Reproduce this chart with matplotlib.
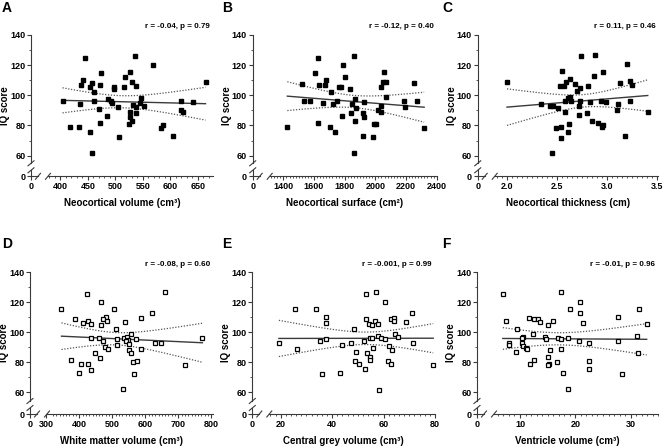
import numpy as np
import matplotlib
matplotlib.use("Agg")
import matplotlib.pyplot as plt

plt.rcParams['font.family'] = ['Liberation Sans', 'DejaVu Sans']
plt.rcParams['font.weight'] = 'bold'

# values
vol_a = [444, 535, 568, 474, 526, 517, 442, 458, 438, 472, 454, 498, 498, 516, 531, 538, 664, 462,
         547, 404, 462, 487, 492, 494, 544, 619, 642, 436, 532, 552, 504, 538, 471, 620, 623, 527,
         538, 485, 527, 531, 472, 525, 586, 583, 418, 434, 454, 605, 506, 457]
iq_a = [124.8, 126.2, 119.8, 114.9, 115.6, 112.3, 109.9, 108.1, 106.8, 107.0, 105.3, 105.7, 104.1,
        105.3, 108.6, 106.4, 108.7, 102.0, 98.5, 96.0, 96.0, 97.3, 96.2, 94.9, 95.2, 96.0, 95.8, 94.0,
        93.8, 92.7, 92.5, 92.0, 91.2, 90.3, 89.0, 88.8, 88.1, 86.6, 85.9, 83.3, 81.5, 80.7, 80.4, 78.0,
        79.1, 79.1, 75.4, 73.1, 72.1, 61.7]

surf_b = [1863, 1624, 1787, 1609, 2059, 1804, 1677, 2048, 2068, 2254, 1520, 1631, 1674, 1763, 1778,
          2037, 1833, 1709, 2070, 1870, 1537, 1572, 2270, 2185, 1752, 1926, 1657, 1724, 1850, 2192,
          2035, 1874, 2016, 2037, 1843, 1918, 1928, 1781, 1868, 2318, 1628, 1994, 2007, 1426, 1705,
          1737, 1918, 1983, 1859]
iq_b = [126.2, 124.8, 119.8, 114.9, 115.3, 112.3, 109.9, 108.6, 109.0, 108.1, 107.2, 106.8, 106.6,
        105.5, 105.7, 105.3, 104.4, 102.0, 98.7, 97.3, 96.2, 96.2, 96.2, 96.0, 96.2, 95.4, 95.2, 94.0,
        94.0, 92.3, 92.7, 91.4, 90.1, 88.8, 88.6, 88.1, 85.9, 86.6, 83.0, 78.0, 81.5, 80.7, 80.9, 79.1,
        79.1, 75.6, 73.1, 72.1, 62.0]

thick_c = [2.737, 2.879, 3.201, 2.551, 2.962, 2.870, 2.634, 2.591, 3.228, 2.003, 3.126, 3.245, 2.680,
           2.531, 2.571, 2.810, 2.727, 2.700, 2.630, 2.611, 2.577, 2.637, 2.727, 2.830, 2.939, 2.992,
           3.228, 2.342, 2.434, 2.458, 2.723, 3.109, 2.508, 3.096, 3.405, 2.581, 2.797, 2.723, 2.847,
           2.910, 2.962, 2.949, 2.620, 2.538, 2.494, 2.611, 2.538, 3.178, 2.448]
iq_c = [125.9, 127.0, 120.5, 116.3, 115.6, 112.9, 110.6, 109.1, 109.5, 108.6, 107.9, 107.1, 107.5,
        105.9, 105.9, 106.2, 104.8, 102.6, 99.2, 97.9, 96.5, 96.5, 96.5, 95.6, 96.1, 95.4, 96.5, 94.3,
        93.1, 92.9, 92.9, 94.3, 91.4, 90.3, 88.9, 88.9, 88.4, 86.7, 83.3, 81.7, 80.6, 79.3, 80.8, 79.3,
        78.2, 75.5, 71.9, 73.2, 61.8]

wm_d = [661, 423, 467, 346, 505, 621, 587, 480, 473, 484, 388, 426, 412, 436, 538, 467, 512, 558,
        436, 459, 471, 515, 535, 545, 549, 542, 573, 773, 550, 629, 649, 513, 478, 487, 551, 558,
        587, 448, 462, 562, 574, 721, 376, 404, 426, 435, 398, 566, 532]
iq_d = [126.5, 125.1, 120.0, 115.1, 115.6, 112.5, 109.1, 110.0, 108.7, 107.3, 108.5, 107.1, 105.8,
        105.6, 106.7, 104.5, 102.3, 98.5, 96.3, 96.3, 94.0, 95.6, 96.3, 97.0, 95.0, 94.0, 95.1, 95.8,
        92.3, 92.5, 92.7, 91.3, 90.2, 88.7, 88.3, 86.3, 88.7, 85.8, 83.1, 80.3, 80.5, 77.8, 81.3, 78.9,
        78.9, 75.1, 72.7, 71.8, 62.3]

cg_e = [53.2, 57.1, 60.7, 25.6, 33.6, 70.9, 37.5, 37.5, 53.2, 56.7, 54.4, 55.6, 57.7, 63.0, 64.2,
        64.1, 68.6, 48.4, 64.3, 65.6, 57.8, 54.7, 55.6, 59.0, 60.6, 37.5, 35.2, 52.5, 19.3, 47.2, 43.8,
        71.6, 26.5, 55.8, 62.0, 63.3, 49.3, 53.4, 54.6, 54.6, 48.8, 50.3, 61.6, 62.8, 79.3, 52.8, 35.9,
        43.2, 58.3]
iq_e = [125.1, 126.7, 120.3, 115.1, 115.6, 112.5, 110.0, 105.8, 108.7, 107.3, 105.6, 104.5, 105.6,
        108.5, 109.3, 107.1, 106.7, 102.0, 98.7, 96.5, 97.3, 96.3, 96.3, 96.0, 95.1, 95.3, 94.0, 94.0,
        92.9, 92.5, 91.3, 92.5, 88.7, 89.1, 90.5, 88.0, 86.5, 86.0, 83.3, 81.3, 80.7, 79.1, 80.5, 78.9,
        78.0, 75.6, 71.8, 72.9, 61.8]

vent_f = [6.9, 17.5, 20.8, 19.1, 31.5, 20.8, 27.7, 11.6, 12.5, 13.2, 13.6, 16.0, 15.1, 7.5, 21.4,
          32.9, 9.4, 12.4, 31.1, 10.5, 10.3, 14.6, 14.7, 16.9, 17.5, 18.7, 20.7, 27.7, 22.5, 8.0, 8.1,
          10.4, 10.5, 11.0, 11.2, 17.5, 15.5, 9.2, 31.3, 15.0, 12.5, 11.9, 16.7, 15.3, 15.1, 22.4,
          22.4, 17.8, 28.5, 18.6]
iq_f = [125.1, 126.7, 120.0, 115.6, 115.1, 112.5, 110.0, 109.1, 108.5, 108.7, 106.7, 107.6, 104.5,
        107.1, 105.8, 105.6, 102.3, 98.7, 97.3, 96.5, 95.8, 96.5, 95.1, 96.3, 95.6, 96.3, 94.3, 94.3,
        92.5, 92.9, 91.3, 92.9, 90.5, 89.1, 88.7, 88.7, 88.3, 86.5, 85.8, 83.3, 81.3, 78.9, 80.3, 78.9,
        77.8, 80.5, 75.3, 72.9, 71.8, 62.0]

letters = ['A', 'B', 'C', 'D', 'E', 'F']
xlabels = ['Neocortical volume (cm³)', 'Neocortical surface (cm²)', 'Neocortical thickness (cm)',
           'White matter volume (cm³)', 'Central grey volume (cm³)', 'Ventricle volume (cm³)']
stats = ['r = -0.04, p = 0.79', 'r = -0.12, p = 0.40', 'r = 0.11, p = 0.46',
         'r = -0.08, p = 0.60', 'r = -0.001, p = 0.99', 'r = -0.01, p = 0.96']
xticks = [[400, 450, 500, 550, 600, 650], [1400, 1600, 1800, 2000, 2200, 2400],
          [2.0, 2.5, 3.0, 3.5], [300, 400, 500, 600, 700, 800], [20, 40, 60, 80], [10, 20, 30]]
xticklabels = [['400', '450', '500', '550', '600', '650'],
               ['1400', '1600', '1800', '2000', '2200', '2400'],
               ['2.0', '2.5', '3.0', '3.5'],
               ['300', '400', '500', '600', '700', '800'],
               ['20', '40', '60', '80'], ['10', '20', '30']]
xdata = [vol_a, surf_b, thick_c, wm_d, cg_e, vent_f]
ydata = [iq_a, iq_b, iq_c, iq_d, iq_e, iq_f]
filled = [True, True, True, False, False, False]

# layout in pixels: left, right, top, bottom of each plot box, x limits, minor tick step
W, H = 666, 448
boxes = [(31, 213, 35, 176.3), (252.7, 436.7, 35, 176.3), (477.7, 658.3, 35, 176.3),
         (30, 213.3, 272, 414), (252.3, 435, 272, 414), (477, 658.3, 272, 414)]
letter_pos = [(2, 8), (222, 8), (442, 8), (2, 244), (222, 244), (442, 244)]
xlims = [(346.7, 677.6), (1200, 2400), (1.711, 3.51), (250.6, 806), (8.96, 80), (2.23, 35)]
minor_start = [380, 1320, 1.9, 320, 16, 6]
minor_step = [10, 20, 0.05, 10, 2, 1]
ylims_bottom = [46.3, 46.3, 46.3, 45.5, 45.5, 45.5]

fig = plt.figure(figsize=(W / 100, H / 100), dpi=100)
gray = '#3a3a3a'

for i in range(6):
    L, R, T, B = boxes[i]
    ax = fig.add_axes([L / W, 1 - B / H, (R - L) / W, (B - T) / H])
    w_px, h_px = R - L, B - T
    x0, x1 = xlims[i]
    y0 = ylims_bottom[i]
    ax.set_xlim(x0, x1)
    ax.set_ylim(y0, 140)
    for s in ax.spines.values():
        s.set_visible(False)

    x = np.array(xdata[i], dtype=float)
    y = np.array(ydata[i], dtype=float)
    if filled[i]:
        ax.plot(x, y, 's', ms=2.9, color='black', mec='black', clip_on=False, zorder=3)
    else:
        ax.plot(x, y, 's', ms=3.1, mfc='white', mec='black', mew=0.9, clip_on=False, zorder=3)

    # linear fit and 95% confidence band
    n = len(x)
    slope, icpt = np.polyfit(x, y, 1)
    xs = np.linspace(x.min(), x.max(), 100)
    yh = slope * xs + icpt
    resid = y - (slope * x + icpt)
    s_err = np.sqrt(np.sum(resid ** 2) / (n - 2))
    se = s_err * np.sqrt(1 / n + (xs - x.mean()) ** 2 / np.sum((x - x.mean()) ** 2))
    ax.plot(xs, yh, color=gray, lw=1.0, zorder=2)
    ax.plot(xs, yh + 2.01 * se, color='#555555', lw=0.9, ls=(0, (1, 1.3)), zorder=2)
    ax.plot(xs, yh - 2.01 * se, color='#555555', lw=0.9, ls=(0, (1, 1.3)), zorder=2)

    # ticks
    ax.set_yticks([y0, 60, 80, 100, 120, 140])
    ax.set_yticklabels(['0', '60', '80', '100', '120', '140'])
    ax.set_yticks([70, 90, 110, 130], minor=True)
    ax.set_xticks([x0] + xticks[i])
    ax.set_xticklabels(['0'] + xticklabels[i])
    ax.set_xticks(np.arange(minor_start[i], x1 + 1e-9, minor_step[i]), minor=True)
    ax.tick_params(which='major', direction='out', length=2.6, width=0.8, color=gray,
                   labelsize=6.5, pad=1.5)
    ax.tick_params(which='minor', direction='out', length=1.5, width=0.6, color=gray)

    # axis lines with breaks
    fx = lambda p: p / w_px
    fy = lambda p: p / h_px
    kw = dict(transform=ax.transAxes, color=gray, lw=0.8, clip_on=False)
    ax.plot([0, 0], [fy(13), 1], **kw)
    ax.plot([0, 0], [0, fy(6)], **kw)
    ax.plot([0, fx(7)], [0, 0], **kw)
    ax.plot([fx(17), 1], [0, 0], **kw)
    for yy in (13, 6):
        ax.plot([fx(-3), fx(3)], [fy(yy - 2.5), fy(yy + 2.5)], **kw)
    for xx in (7, 17):
        ax.plot([fx(xx - 2.5), fx(xx + 2.5)], [fy(-3), fy(3)], **kw)

    ax.set_xlabel(xlabels[i], fontsize=7, fontweight='bold', labelpad=5)
    ax.set_ylabel('IQ score', fontsize=7, fontweight='bold')
    ax.yaxis.set_label_coords(-fx(21), 0.5)
    ax.text(1 - fx(3), 1 + fy(8), stats[i], transform=ax.transAxes, ha='right', va='center',
            fontsize=5.8, fontweight='bold')
    lx, ly = letter_pos[i]
    fig.text(lx / W, 1 - ly / H, letters[i], ha='left', va='center',
             fontsize=10, fontweight='bold')

fig.savefig('out.png', dpi=100)
